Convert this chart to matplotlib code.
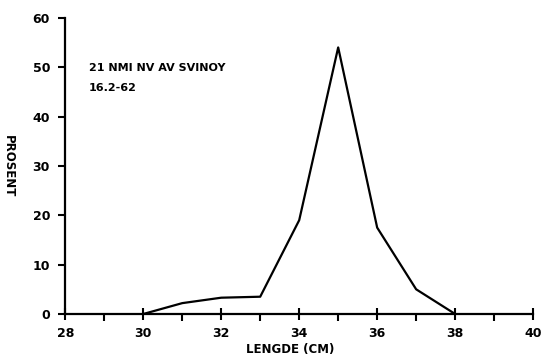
import matplotlib.pyplot as plt

# length distribution (cm) vs percent
lengths = [30, 31, 32, 33, 34, 35, 36, 37, 38]
percent = [0, 2.2, 3.3, 3.5, 19, 54, 17.5, 5, 0]

x_ticks = [28, 30, 32, 34, 36, 38, 40]
y_ticks = [0, 10, 20, 30, 40, 50, 60]

fig = plt.figure(figsize=(5.44, 3.56), dpi=100)
ax = fig.add_axes([0.12, 0.118, 0.86, 0.832])

ax.plot(lengths, percent, color='black', linewidth=1.6)

ax.set_xlim(28, 40)
ax.set_ylim(0, 60)
ax.spines['top'].set_visible(False)
ax.spines['right'].set_visible(False)
ax.spines['left'].set_linewidth(1.6)
ax.spines['bottom'].set_linewidth(1.6)

ax.set_xticks(x_ticks)
ax.set_xticks([29, 31, 33, 35, 37, 39], minor=True)
ax.set_yticks(y_ticks)
ax.tick_params(axis='x', which='major', direction='inout', length=9, width=1.5, pad=5)
ax.tick_params(axis='x', which='minor', direction='out', length=5, width=1.5)
ax.tick_params(axis='y', direction='out', length=5, width=1.5, pad=6)
for lbl in ax.get_xticklabels() + ax.get_yticklabels():
    lbl.set_fontweight('heavy')
    lbl.set_fontsize(9)

ax.set_xlabel('LENGDE (CM)', fontsize=8.5, fontweight='heavy')
ax.xaxis.set_label_coords(0.48, -0.097)
ax.set_ylabel('PROSENT', fontsize=8.5, fontweight='heavy', rotation=270)
ax.yaxis.set_label_coords(-0.135, 0.5)

ax.text(28.6, 49.9, '21 NMI NV AV SVINOY', fontsize=8, fontweight='heavy', va='center')
ax.text(28.6, 45.8, '16.2-62', fontsize=8, fontweight='heavy', va='center')

fig.savefig('out.png', dpi=100)
